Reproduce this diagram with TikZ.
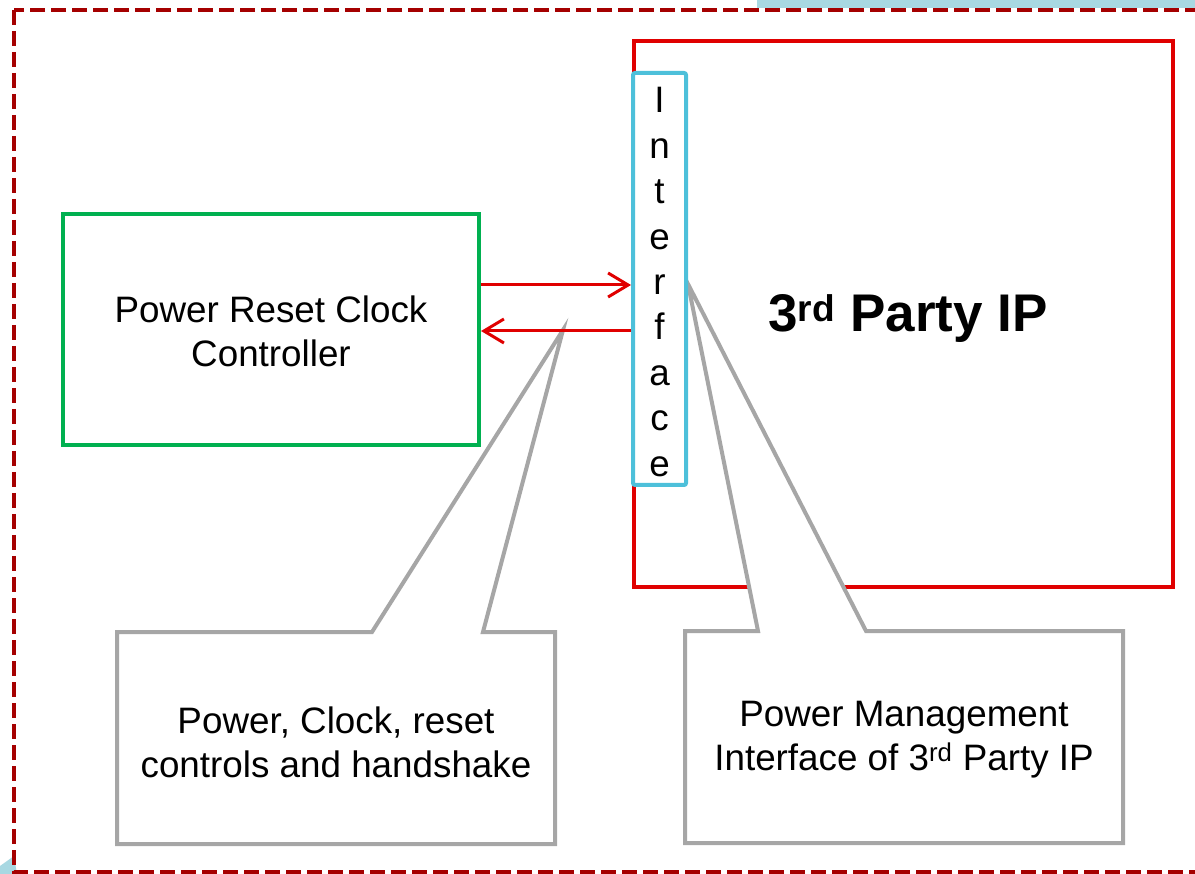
\documentclass[tikz,border=0pt]{standalone}
\usepackage{fontspec}
\setmainfont{Liberation Sans}
\usetikzlibrary{arrows.meta}
\definecolor{framered}{HTML}{A50000}
\definecolor{ipred}{HTML}{E00000}
\definecolor{ifblue}{HTML}{4DC0DA}
\definecolor{ctrlgreen}{HTML}{00B050}
\definecolor{callgray}{HTML}{A6A6A6}
\definecolor{bandblue}{HTML}{A8D8E2}
\begin{document}
\begin{tikzpicture}[x=1pt,y=-1pt,
  boxtext/.style={font=\fontsize{36.8}{44}\selectfont, align=center, inner sep=0pt},
  blockbox/.style={draw, line width=4pt, minimum width=#1, inner sep=0pt},
  callout/.style={draw=callgray, line width=4pt, fill=white, line join=miter},
  sig/.style={draw=ipred, line width=3pt, -{Straight Barb[length=20pt,width=24pt,line width=3pt]}}
]
\clip (0,0) rectangle (1195,874);
\useasboundingbox (0,0) rectangle (1195,874);

% decorative page accents
\fill[bandblue] (757,0) rectangle (1195,8);
\fill[bandblue] (0,874) -- (0,866) -- (14,856) -- (17,874) -- cycle;

% outer system boundary
\draw[framered, line width=4pt, dash pattern=on 15pt off 6pt] (14,10) rectangle (1215,872);

% 3rd party IP block
\node[draw=ipred, line width=4pt, minimum width=539pt, minimum height=546pt, inner sep=0pt] (ip) at (903.5,314) {};
\node[font=\fontsize{53}{60}\selectfont\bfseries, inner sep=0pt] (iptext) at (908,318) {3\textsuperscript{rd} Party IP};

% power reset clock controller
\node[draw=ctrlgreen, line width=4pt, minimum width=416pt, minimum height=231pt, inner sep=0pt] (ctrl) at (271,329.5) {};
\node[boxtext] (ctrltext) at (271,331) {Power Reset Clock\\Controller};

% callout shapes
\path[callout] (117,632) -- (372,632) -- (563,330) -- (483,632) -- (555,632) -- (555,844) -- (117,844) -- cycle;
\path[callout] (685,631) -- (758,631) -- (688,284) -- (866,631) -- (1123,631) -- (1123,843) -- (685,843) -- cycle;
\node[boxtext] (calltext1) at (336,742) {Power, Clock, reset\\controls and handshake};
\node[boxtext] (calltext2) at (904,740) {Power Management\\Interface of 3\textsuperscript{rd} Party IP};

% interface strip
\node[draw=ifblue, fill=white, line width=4pt, rounded corners=2pt, minimum width=53pt, minimum height=412pt, inner sep=0pt] (iface) at (659.5,279) {};
\node[font=\fontsize{36.8}{45.4}\selectfont, align=center, inner sep=0pt] (ifacetext) at (659.5,282) {I\\n\\t\\e\\r\\f\\a\\c\\e};

% handshake signals
\coordinate (req) at (0,285);
\coordinate (ack) at (0,331);
\draw[sig] (ctrl.east |- req) -- (iface.west |- req);
\draw[sig] (iface.west |- ack) -- (ctrl.east |- ack);
\end{tikzpicture}
\end{document}
